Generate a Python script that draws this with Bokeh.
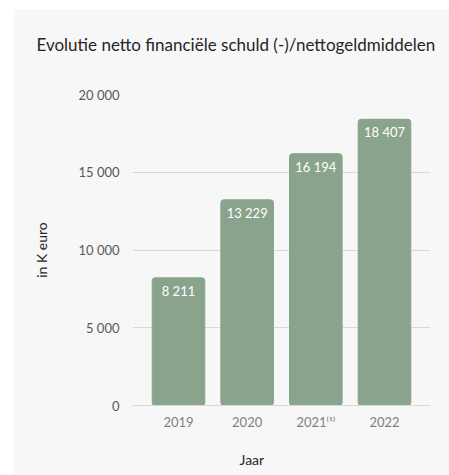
from bokeh.plotting import figure
from bokeh.models import ColumnDataSource, FactorRange, Range1d, FixedTicker, CustomJSTickFormatter, Title, LabelSet
from bokeh.core.properties import value
from bokeh.embed import file_html
from bokeh.resources import INLINE

years = ["2019", "2020", "2021⁽¹⁾", "2022"]
values = [8211, 13229, 16194, 18407]
labels = [f"{v:,}".replace(",", " ") for v in values]
y_ticks = [0, 5000, 10000, 15000, 20000]

title_text = "Evolutie netto financiële schuld (-)/nettogeldmiddelen"
x_title = "Jaar"
y_title = "in K euro"

FONT = "Lato"
BG = "#f7f7f7"

src = ColumnDataSource(dict(x=years, top=values, lab=labels))

p = figure(
    x_range=FactorRange(*years, range_padding=0.085, range_padding_units="percent"),
    y_range=Range1d(0, 20000),
    width=436, height=466,
    output_backend="svg", toolbar_location=None,
    min_border_left=119, min_border_right=19, min_border_top=85, min_border_bottom=70,
    background_fill_color=BG, border_fill_color=BG,
    outline_line_color=None,
    margin=(9, 0, 0, 13),
)

# spacer between frame and title
p.add_layout(Title(text=" ", text_font_size="1px", standoff=37), "above")

p.title.text = title_text
p.title.align = "left"
p.title.offset = -96
p.title.text_font = FONT
p.title.text_font_size = "17px"
p.title.text_font_style = "normal"
p.title.text_color = "#262626"
p.title.standoff = 0

p.vbar(x="x", top="top", width=0.766, source=src, color="#89a38c", border_radius=3)

p.add_layout(LabelSet(x="x", y="top", text="lab", source=src, text_color="white",
                      text_font=value(FONT), text_font_size="13px", text_align="center",
                      text_baseline="top", y_offset=-5))

p.xgrid.grid_line_color = None
p.ygrid.grid_line_color = "#d9d9d9"
p.ygrid.grid_line_width = 1

p.yaxis.ticker = FixedTicker(ticks=y_ticks)
p.yaxis.formatter = CustomJSTickFormatter(code="return tick.toLocaleString('en-US').replace(/,/g, ' ');")
p.yaxis.axis_line_color = None
p.yaxis.major_tick_line_color = None
p.yaxis.major_tick_out = 0
p.yaxis.major_tick_in = 0
p.yaxis.minor_tick_line_color = None
p.yaxis.major_label_standoff = 13
p.yaxis.major_label_text_font = FONT
p.yaxis.major_label_text_font_size = "13px"
p.yaxis.major_label_text_color = "#595959"
p.yaxis.axis_label = y_title
p.yaxis.axis_label_text_font = FONT
p.yaxis.axis_label_text_font_size = "14px"
p.yaxis.axis_label_text_font_style = "normal"
p.yaxis.axis_label_text_color = "#262626"
p.yaxis.axis_label_standoff = 25

p.xaxis.axis_line_color = "#d9d9d9"
p.xaxis.major_tick_line_color = None
p.xaxis.major_tick_out = 0
p.xaxis.major_tick_in = 0
p.xaxis.minor_tick_line_color = None
p.xaxis.major_label_standoff = 8
p.xaxis.major_label_text_font = FONT
p.xaxis.major_label_text_font_size = "13px"
p.xaxis.major_label_text_color = "#7f7f7f"

# spacer between axis and x title
p.add_layout(Title(text=" ", text_font_size="1px", standoff=13), "below")
p.add_layout(Title(text=x_title, align="left", offset=107,
                   text_font=FONT, text_font_size="14px", text_font_style="normal",
                   text_color="#262626", standoff=0), "below")

open("out.html", "w").write(file_html(p, INLINE))
